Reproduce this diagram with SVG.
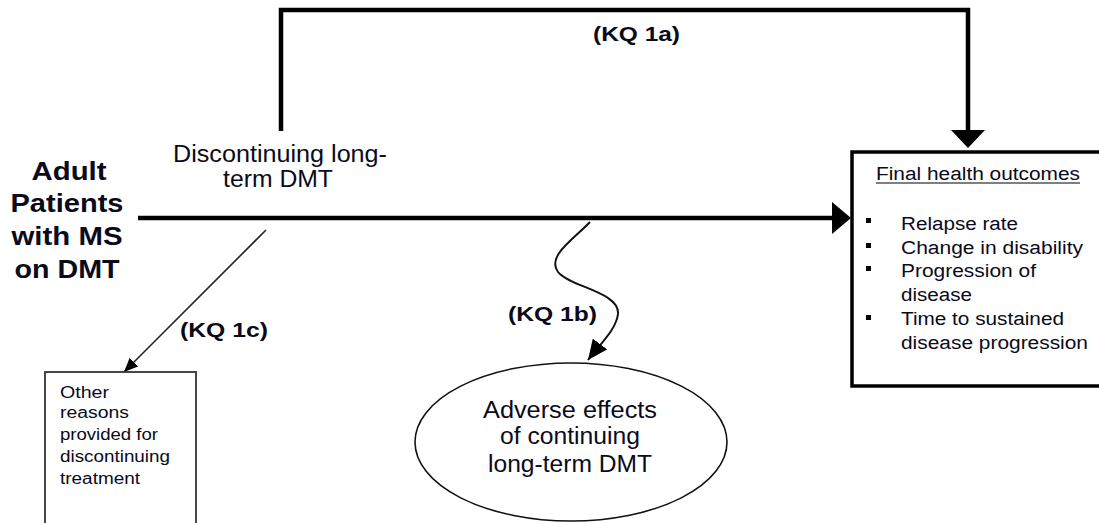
<svg xmlns="http://www.w3.org/2000/svg" width="1099" height="523" viewBox="0 0 1099 523">
<defs>
<marker id="smallHead" viewBox="0 0 14 12" refX="14" refY="6" markerWidth="14" markerHeight="12" markerUnits="userSpaceOnUse" orient="auto">
<path d="M0,0 L14,6 L0,12 Z" fill="#000"/>
</marker>
<marker id="midHead" viewBox="0 0 20 18" refX="20" refY="9" markerWidth="20" markerHeight="18" markerUnits="userSpaceOnUse" orient="auto">
<path d="M0,0 L20,9 L0,18 Z" fill="#000"/>
</marker>
</defs>
<style>
text { font-family: "Liberation Sans", Arial, sans-serif; fill: #0a0a1a; }
.bold { font-weight: bold; }
.thick { fill: none; stroke: #000; stroke-width: 4.5; }
.thin { fill: none; stroke: #222; stroke-width: 1.6; }
.wave { fill: none; stroke: #111; stroke-width: 2; }
</style>
<rect width="1099" height="523" fill="#fff"/>

<g id="connectors">
<polyline class="thick" points="281,131 281,10 968,10 968,131"/>
<polygon points="951,130 985,130 968,148" fill="#000"/>
<line class="thick" x1="138" y1="218" x2="834" y2="218"/>
<polygon points="832,202 851,218 832,234" fill="#000"/>
<line class="thin" x1="266" y1="230" x2="124" y2="372" marker-end="url(#smallHead)"/>
<path class="wave" d="M590,222 C575,238 546,256 558,272 C570,287 620,292 618,314 C616,330 600,344 588,360" marker-end="url(#midHead)"/>
<text class="bold" x="593" y="41" font-size="20" textLength="87" lengthAdjust="spacingAndGlyphs">(KQ 1a)</text>
<text class="bold" x="180" y="337" font-size="20" textLength="88" lengthAdjust="spacingAndGlyphs">(KQ 1c)</text>
<text class="bold" x="508" y="321" font-size="20" textLength="89" lengthAdjust="spacingAndGlyphs">(KQ 1b)</text>
</g>

<g id="population">
<text class="bold" x="69" y="180" font-size="26" text-anchor="middle" textLength="75" lengthAdjust="spacingAndGlyphs">Adult</text>
<text class="bold" x="67" y="212" font-size="26" text-anchor="middle" textLength="113" lengthAdjust="spacingAndGlyphs">Patients</text>
<text class="bold" x="67" y="245" font-size="26" text-anchor="middle" textLength="111" lengthAdjust="spacingAndGlyphs">with MS</text>
<text class="bold" x="67" y="278" font-size="26" text-anchor="middle" textLength="105" lengthAdjust="spacingAndGlyphs">on DMT</text>
</g>

<g id="intervention">
<text x="280" y="162" font-size="23" text-anchor="middle" textLength="214" lengthAdjust="spacingAndGlyphs">Discontinuing long-</text>
<text x="278" y="187" font-size="23" text-anchor="middle" textLength="110" lengthAdjust="spacingAndGlyphs">term DMT</text>
</g>

<g id="outcomes">
<rect x="852" y="152" width="260" height="234" fill="#fff" stroke="#000" stroke-width="3.5"/>
<text x="978" y="180" font-size="18" text-anchor="middle" textLength="204" lengthAdjust="spacingAndGlyphs">Final health outcomes</text>
<line x1="876" y1="183" x2="1080" y2="183" stroke="#000" stroke-width="1.2"/>
<rect x="866" y="218" width="5" height="5" fill="#000"/>
<rect x="866" y="243" width="5" height="5" fill="#000"/>
<rect x="866" y="266" width="5" height="5" fill="#000"/>
<rect x="866" y="315" width="5" height="5" fill="#000"/>
<text x="901" y="230" font-size="18" textLength="117" lengthAdjust="spacingAndGlyphs">Relapse rate</text>
<text x="901" y="254" font-size="18" textLength="182" lengthAdjust="spacingAndGlyphs">Change in disability</text>
<text x="901" y="277" font-size="18" textLength="135" lengthAdjust="spacingAndGlyphs">Progression of</text>
<text x="901" y="301" font-size="18" textLength="71" lengthAdjust="spacingAndGlyphs">disease</text>
<text x="901" y="325" font-size="18" textLength="163" lengthAdjust="spacingAndGlyphs">Time to sustained</text>
<text x="901" y="349" font-size="18" textLength="187" lengthAdjust="spacingAndGlyphs">disease progression</text>
</g>

<g id="other-reasons">
<rect x="45" y="372" width="151" height="170" fill="#fff" stroke="#333" stroke-width="1.8"/>
<text x="60" y="398" font-size="16" textLength="49" lengthAdjust="spacingAndGlyphs">Other</text>
<text x="60" y="418" font-size="16" textLength="69" lengthAdjust="spacingAndGlyphs">reasons</text>
<text x="60" y="440" font-size="16" textLength="98" lengthAdjust="spacingAndGlyphs">provided for</text>
<text x="60" y="462" font-size="16" textLength="110" lengthAdjust="spacingAndGlyphs">discontinuing</text>
<text x="60" y="484" font-size="16" textLength="80" lengthAdjust="spacingAndGlyphs">treatment</text>
</g>

<g id="adverse-effects">
<ellipse cx="571" cy="442" rx="156" ry="79" fill="#fff" stroke="#111" stroke-width="1.6"/>
<text x="570" y="418" font-size="23" text-anchor="middle" textLength="174" lengthAdjust="spacingAndGlyphs">Adverse effects</text>
<text x="570" y="444" font-size="23" text-anchor="middle" textLength="140" lengthAdjust="spacingAndGlyphs">of continuing</text>
<text x="570" y="472" font-size="23" text-anchor="middle" textLength="164" lengthAdjust="spacingAndGlyphs">long-term DMT</text>
</g>
</svg>
